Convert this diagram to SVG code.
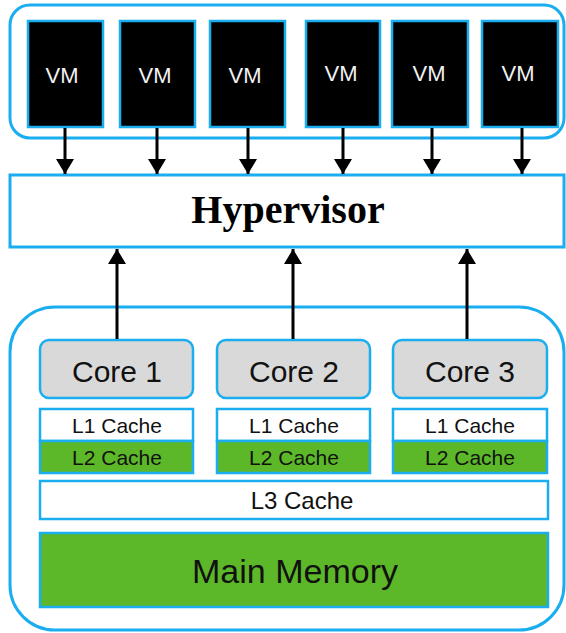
<svg xmlns="http://www.w3.org/2000/svg" width="566" height="633" viewBox="0 0 566 633">
  <defs>
    <style>
      .frame { fill: #ffffff; stroke: #1aaef0; stroke-width: 3; }
      .vm { fill: #000000; stroke: #1aaef0; stroke-width: 2.5; }
      .vmtxt { fill: #f2f2f2; font-family: "Liberation Sans", Arial, sans-serif; font-size: 22px; text-anchor: middle; }
      .core { fill: #d9d9d9; stroke: #1aaef0; stroke-width: 2.5; }
      .cache { fill: #ffffff; stroke: #1aaef0; stroke-width: 2.5; }
      .green { fill: #5db829; stroke: #1aaef0; stroke-width: 2.5; }
      .lbl { fill: #111111; font-family: "Liberation Sans", Arial, sans-serif; text-anchor: middle; }
      .hyp { fill: #000000; font-family: "Liberation Serif", "Times New Roman", serif; font-weight: bold; font-size: 40px; text-anchor: middle; }
      .arrow { stroke: #000000; stroke-width: 3; fill: none; marker-end: url(#head); }
    </style>
    <marker id="head" viewBox="0 0 10 12" refX="10" refY="6" markerUnits="userSpaceOnUse" markerWidth="22" markerHeight="18" orient="auto">
      <path d="M0,0 L10,6 L0,12 Z" fill="#000000"/>
    </marker>
  </defs>

  <!-- VM tier -->
  <g id="vm-host">
    <rect class="frame" x="10" y="5" width="554" height="133" rx="20"/>
  </g>
  <g id="vm1"><rect class="vm" x="28" y="21" width="75" height="106"/><text class="vmtxt" x="62" y="83">VM</text></g>
  <g id="vm2"><rect class="vm" x="120" y="21" width="75" height="106"/><text class="vmtxt" x="155" y="83">VM</text></g>
  <g id="vm3"><rect class="vm" x="210" y="21" width="75" height="106"/><text class="vmtxt" x="245" y="83">VM</text></g>
  <g id="vm4"><rect class="vm" x="306" y="21" width="74" height="106"/><text class="vmtxt" x="341" y="81">VM</text></g>
  <g id="vm5"><rect class="vm" x="392" y="21" width="76" height="106"/><text class="vmtxt" x="429" y="81">VM</text></g>
  <g id="vm6"><rect class="vm" x="482" y="21" width="76" height="106"/><text class="vmtxt" x="518" y="81">VM</text></g>

  <!-- Hypervisor layer -->
  <g id="hypervisor">
    <rect x="10" y="175" width="554" height="72" fill="#ffffff" stroke="#1aaef0" stroke-width="3"/>
    <text class="hyp" x="288" y="223">Hypervisor</text>
  </g>

  <!-- Physical host -->
  <g id="host">
    <rect class="frame" x="10" y="307" width="554" height="323" rx="45"/>
  </g>
  <g id="core1"><rect class="core" x="40" y="340" width="153" height="58" rx="9"/><text class="lbl" x="117" y="382" font-size="30">Core 1</text></g>
  <g id="core2"><rect class="core" x="217" y="340" width="153" height="58" rx="9"/><text class="lbl" x="294" y="382" font-size="30">Core 2</text></g>
  <g id="core3"><rect class="core" x="393" y="340" width="154" height="58" rx="9"/><text class="lbl" x="470" y="382" font-size="30">Core 3</text></g>

  <g id="cache1">
    <rect class="cache" x="40" y="409" width="153" height="32"/>
    <rect class="green" x="40" y="441" width="153" height="32"/>
    <text class="lbl" x="117" y="433" font-size="21">L1 Cache</text>
    <text class="lbl" x="117" y="465" font-size="21">L2 Cache</text>
  </g>
  <g id="cache2">
    <rect class="cache" x="217" y="409" width="153" height="32"/>
    <rect class="green" x="217" y="441" width="153" height="32"/>
    <text class="lbl" x="294" y="433" font-size="21">L1 Cache</text>
    <text class="lbl" x="294" y="465" font-size="21">L2 Cache</text>
  </g>
  <g id="cache3">
    <rect class="cache" x="393" y="409" width="154" height="32"/>
    <rect class="green" x="393" y="441" width="154" height="32"/>
    <text class="lbl" x="470" y="433" font-size="21">L1 Cache</text>
    <text class="lbl" x="470" y="465" font-size="21">L2 Cache</text>
  </g>

  <g id="l3"><rect class="cache" x="40" y="481" width="508" height="38"/><text class="lbl" x="302" y="509" font-size="24">L3 Cache</text></g>
  <g id="memory"><rect class="green" x="40" y="533" width="508" height="74"/><text class="lbl" x="295" y="583" font-size="34">Main Memory</text></g>

  <!-- Connectors -->
  <g id="connectors">
    <line class="arrow" x1="65" y1="128" x2="65" y2="174"/>
    <line class="arrow" x1="157" y1="128" x2="157" y2="174"/>
    <line class="arrow" x1="248" y1="128" x2="248" y2="174"/>
    <line class="arrow" x1="343" y1="128" x2="343" y2="174"/>
    <line class="arrow" x1="432" y1="128" x2="432" y2="174"/>
    <line class="arrow" x1="522" y1="128" x2="522" y2="174"/>
    <line class="arrow" x1="117" y1="339" x2="117" y2="249"/>
    <line class="arrow" x1="293" y1="339" x2="293" y2="249"/>
    <line class="arrow" x1="467" y1="339" x2="467" y2="249"/>
  </g>
</svg>
